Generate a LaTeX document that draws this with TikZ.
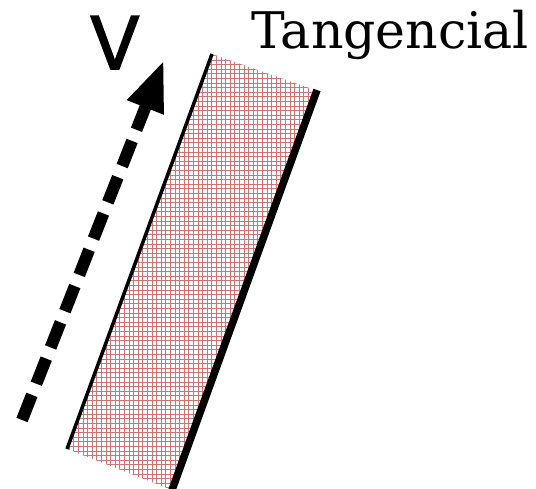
\documentclass[tikz,border=0pt]{standalone}
\usepackage{fontspec}
\usetikzlibrary{arrows.meta}
\newfontfamily\labelfont[FakeBold=2]{Poppins}
\newfontfamily\titlefont{DejaVu Serif}
\definecolor{hatchred}{RGB}{205,115,115}

\begin{document}
\begin{tikzpicture}[
        x=1pt, y=-1pt,
        hatch/.style={draw=hatchred, line width=0.6pt},
        wall/.style={draw=black, line width=3.5pt},
        thickwall/.style={draw=black, line width=7.5pt},
        velocity/.style={-{Triangle[length=51pt, width=36pt]}, line width=12pt, dash pattern=on 27pt off 12pt}
    ]
    \useasboundingbox (0,0) rectangle (536,488);

    % Band corners
    \coordinate (tl) at (212,54);
    \coordinate (tr) at (315,90);
    \coordinate (br) at (172,490);
    \coordinate (bl) at (67,449);

    % Hatched band
    \begin{scope}
        \clip (tl) -- (tr) -- (br) -- (bl) -- cycle;
        \draw[hatch] (50,40) grid[step=4.6pt] (340,492);
    \end{scope}

    % Walls
    \draw[wall] (tl) -- (bl);
    \draw[thickwall] (317,90) -- (172,490);

    % Velocity arrow
    \coordinate (vstart) at (22,420);
    \coordinate (vtip) at (164,60);
    \draw[velocity] (vstart) -- (vtip);

    % Labels
    \node[anchor=base west, inner sep=0pt, font=\labelfont\fontsize{76}{76}\selectfont] (vlabel) at (89,69) {V};
    \node[anchor=base west, inner sep=0pt, font=\titlefont\fontsize{50.5}{50.5}\selectfont] (title) at (251,48) {Tangencial};
\end{tikzpicture}
\end{document}
